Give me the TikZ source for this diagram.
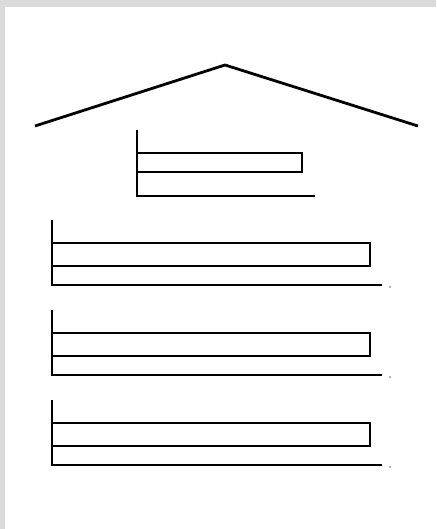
\documentclass[tikz,border=0pt]{standalone}
\usepackage{tikz}
\definecolor{framegrey}{RGB}{218,218,218}
\definecolor{specgrey}{RGB}{150,150,150}

\begin{document}
\begin{tikzpicture}[x=1pt, y=-1pt, line width=2.8pt]
  \fill[framegrey] (0,0) rectangle (436,529);
  \fill[white] (5,7) rectangle (436,529);
  \useasboundingbox (0,0) rectangle (436,529);
  % roof
  \draw (35,126) -- (225,65) -- (418,126);
  % small shelf
  \draw (137,130) -- (137,196) -- (315,196);
  \draw (137,153) -- (302,153) -- (302,172) -- (137,172);
  % big shelves
  \foreach \y in {0,90,180} {
    \draw (52,220+\y) -- (52,285+\y) -- (382,285+\y);
    \draw (52,243+\y) -- (370,243+\y) -- (370,266+\y) -- (52,266+\y);
    \fill[specgrey] (390,287+\y) circle (1.2);
  }
\end{tikzpicture}
\end{document}
